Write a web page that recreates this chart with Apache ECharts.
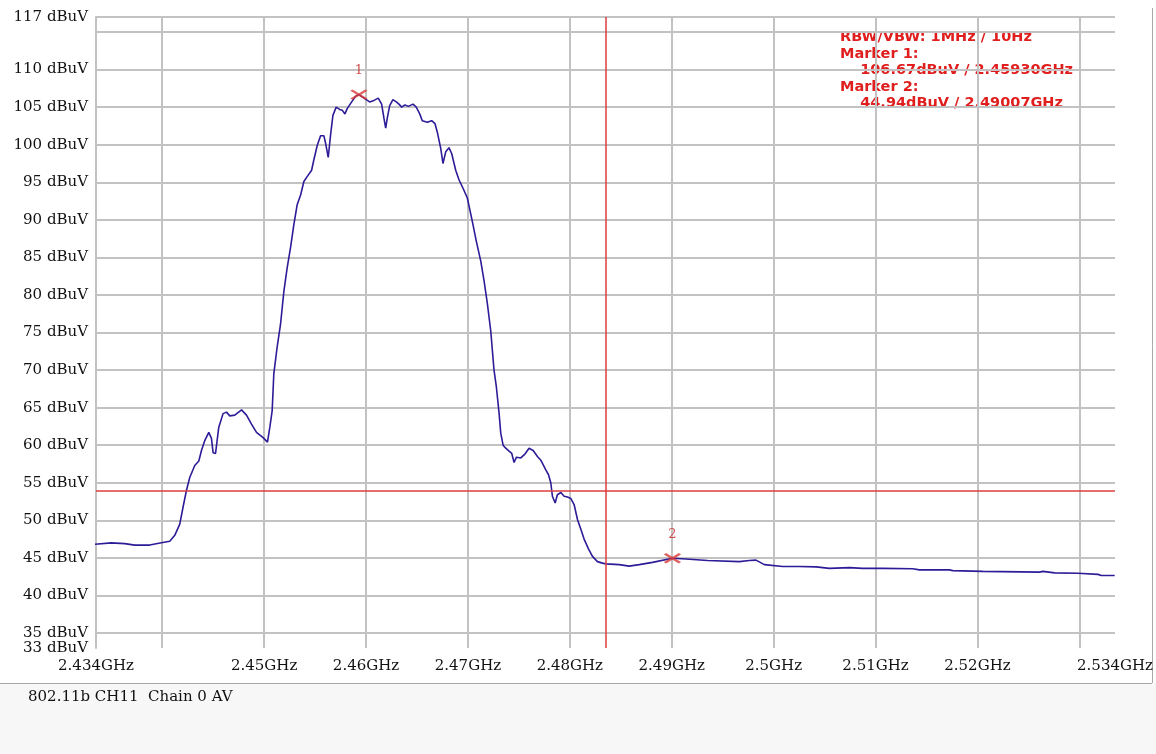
<!DOCTYPE html>
<html>
<head>
<meta charset="utf-8">
<title>802.11b CH11 Chain 0 AV</title>
<script src="https://cdn.jsdelivr.net/npm/echarts@6/dist/echarts.min.js"></script>
<style>
  html, body { margin: 0; padding: 0; background: #fff; }
  #chart { width: 1156px; height: 754px; }
</style>
</head>
<body>
<div id="chart"></div>
<script>
// trace (GHz, dBuV)
var freqGHz = [
  2.43337, 2.43501, 2.43632, 2.43730, 2.43877, 2.43992, 2.44074, 2.44123, 2.44172, 2.44205,
  2.44238, 2.44270, 2.44319, 2.44359, 2.44385, 2.44417, 2.44457, 2.44483, 2.44499, 2.44523,
  2.44555, 2.44597, 2.44631, 2.44663, 2.44712, 2.44778, 2.44827, 2.44876, 2.44925, 2.44990,
  2.45033, 2.45056, 2.45079,
  2.45095, 2.45128, 2.45161, 2.45194, 2.45226, 2.45259, 2.45292, 2.45324, 2.45358, 2.45390,
  2.45422, 2.45466, 2.45488, 2.45521, 2.45554, 2.45586, 2.45603, 2.45629, 2.45652, 2.45675,
  2.45707, 2.45741, 2.45766, 2.45793, 2.45815, 2.45859, 2.45898, 2.45930, 2.45970, 2.46002,
  2.46035, 2.46078, 2.46120, 2.46153, 2.46176, 2.46193, 2.46208, 2.46232, 2.46264, 2.46297,
  2.46323, 2.46350, 2.46382, 2.46415, 2.46461, 2.46493, 2.46527, 2.46552, 2.46601, 2.46644,
  2.46677, 2.46699, 2.46733, 2.46755, 2.46782, 2.46814, 2.46841, 2.46880, 2.46913, 2.46952,
  2.46994,
  2.47043, 2.47083, 2.47126, 2.47158, 2.47191, 2.47224, 2.47256, 2.47279, 2.47306, 2.47322,
  2.47345, 2.47371, 2.47404, 2.47430, 2.47453, 2.47476, 2.47519, 2.47561, 2.47600, 2.47640,
  2.47682, 2.47715, 2.47738, 2.47764, 2.47790, 2.47813, 2.47829, 2.47856, 2.47878, 2.47912,
  2.47944, 2.47977, 2.48010, 2.48042, 2.48075, 2.48108, 2.48140, 2.48183, 2.48222, 2.48271,
  2.48320,
  2.48354, 2.48484, 2.48583, 2.48681, 2.48811, 2.49007, 2.49139, 2.49352, 2.49663, 2.49761,
  2.49827, 2.49909, 2.50089, 2.50253, 2.50417, 2.50547, 2.50744, 2.50874, 2.51071, 2.51366,
  2.51431, 2.51726, 2.51758, 2.52053, 2.52070, 2.52610, 2.52643, 2.52758, 2.52986, 2.53003,
  2.53183, 2.53216, 2.53347
];
var levelDbuv = [
  46.8, 47.0, 46.9, 46.7, 46.7, 47.0, 47.2, 48.0, 49.5, 51.8,
  54.0, 55.7, 57.3, 57.9, 59.3, 60.6, 61.7, 60.9, 59.0, 58.9,
  62.4, 64.2, 64.4, 63.9, 64.0, 64.7, 64.0, 62.8, 61.7, 61.0,
  60.4, 62.4, 64.6,
  69.5, 73.1, 76.1, 80.5, 83.6, 86.3, 89.4, 92.0, 93.3, 95.1,
  95.75, 96.6, 98.0, 99.9, 101.2, 101.2, 100.2, 98.3, 101.3, 103.9,
  105.0, 104.7, 104.6, 104.1, 104.8, 105.7, 106.45, 106.67, 106.3, 106.0,
  105.7, 105.9, 106.2, 105.4, 103.5, 102.2, 103.5, 105.2, 106.0, 105.7,
  105.4, 105.0, 105.3, 105.1, 105.4, 105.0, 104.1, 103.2, 103.0, 103.2,
  102.8, 101.7, 99.5, 97.5, 99.05, 99.6, 98.8, 96.6, 95.3, 94.2,
  92.9,
  89.8, 87.1, 84.5, 81.9, 78.8, 75.2, 70.0, 67.75, 64.2, 61.6,
  60.0, 59.6, 59.2, 58.9, 57.7, 58.4, 58.3, 58.85, 59.6, 59.3,
  58.5, 58.0, 57.4, 56.7, 56.1, 55.0, 53.2, 52.3, 53.4, 53.7,
  53.2, 53.1, 52.9, 52.1, 50.1, 48.8, 47.5, 46.2, 45.2, 44.5,
  44.3,
  44.2, 44.1, 43.9, 44.1, 44.4, 44.94, 44.85, 44.65, 44.5, 44.65,
  44.7, 44.1, 43.85, 43.85, 43.8, 43.6, 43.7, 43.6, 43.6, 43.55,
  43.4, 43.4, 43.3, 43.2, 43.1, 43.1, 43.2, 43.0, 42.95, 42.8,
  42.8, 42.65, 42.65
];

// markers
var markerNames = ['1', '2'];
var markerFreq = [2.45930, 2.49007];
var markerLevel = [106.67, 44.94];

// display line and band edge
var limitLevel = 54;
var bandEdgeGHz = 2.4835;

// axes
var xMin = 2.4335, xMax = 2.5335;
var xGridValues = [2.44, 2.45, 2.46, 2.47, 2.48, 2.49, 2.50, 2.51, 2.52, 2.53];
var xLabelValues = [2.4335, 2.45, 2.46, 2.47, 2.48, 2.49, 2.50, 2.51, 2.52, 2.5335];
var yMin = 33, yMax = 117;
var yGridValues = [35, 40, 45, 50, 55, 60, 65, 70, 75, 80, 85, 90, 95, 100, 105, 110, 115, 117];
var yLabelValues = [33, 35, 40, 45, 50, 55, 60, 65, 70, 75, 80, 85, 90, 95, 100, 105, 110, 117];

var rbwText = 'RBW/VBW: 1MHz / 10Hz';
var footerText = '802.11b CH11  Chain 0 AV';

var gridColor = '#c2c2c2';
var red = '#d93a3a';
var serif = 'DejaVu Serif';

var trace = freqGHz.map(function (f, i) { return [f, levelDbuv[i]]; });
var markers = markerFreq.map(function (f, i) { return { value: [f, markerLevel[i]], name: markerNames[i] }; });

var infoLines = [rbwText];
markerFreq.forEach(function (f, i) {
  infoLines.push('Marker ' + markerNames[i] + ':');
  infoLines.push('    ' + markerLevel[i].toFixed(2) + 'dBuV / ' + f.toFixed(5) + 'GHz');
});

var infoTexts = infoLines.map(function (t, i) {
  return {
    type: 'text', x: 840, y: 30 + i * 16.5,
    style: { text: t, fill: '#e01e1e', font: 'bold 14.5px "DejaVu Sans"', textVerticalAlign: 'top' }
  };
});

var redLine = { color: '#de3c3c', width: 1.5, type: 'solid' };

var option = {
  animation: false,
  backgroundColor: '#fff',
  grid: { left: 96, right: 41, top: 17, bottom: 106, outerBoundsMode: 'none', containLabel: false },
  xAxis: {
    type: 'value', min: xMin, max: xMax,
    axisLine: { show: false },
    axisTick: { show: false, customValues: xGridValues },
    splitLine: { show: true, lineStyle: { color: gridColor, width: 2 } },
    axisLabel: {
      customValues: xLabelValues, margin: 11,
      color: '#111', fontFamily: serif, fontSize: 15,
      formatter: function (v) { return (Math.round(v * 1000 + 1e-6) / 1000) + 'GHz'; }
    }
  },
  yAxis: {
    type: 'value', min: yMin, max: yMax,
    axisLine: { show: true, lineStyle: { color: gridColor, width: 2 } },
    axisTick: { show: false, customValues: yGridValues },
    splitLine: { show: true, lineStyle: { color: gridColor, width: 2 } },
    axisLabel: {
      customValues: yLabelValues, margin: 8,
      color: '#111', fontFamily: serif, fontSize: 15,
      formatter: '{value} dBuV'
    }
  },
  series: [
    {
      type: 'line', data: trace, showSymbol: false, silent: true,
      lineStyle: { color: '#2c1c98', width: 1.6 },
      markLine: {
        silent: true, symbol: 'none', label: { show: false }, precision: 5,
        lineStyle: redLine,
        data: [
          { yAxis: limitLevel, lineStyle: redLine },
          { xAxis: bandEdgeGHz, lineStyle: redLine }
        ]
      },
      z: 3
    },
    {
      type: 'scatter', data: markers, silent: true,
      symbol: 'path://M0,0L16,10M16,0L0,10', symbolSize: [15, 9],
      itemStyle: { color: 'transparent', borderColor: red, borderWidth: 2.5 },
      label: {
        show: true, position: 'top', distance: 12,
        formatter: '{b}', color: '#c8282a', fontFamily: serif, fontSize: 13
      },
      z: 5
    }
  ],
  graphic: [
    { type: 'rect', shape: { x: 0, y: 683, width: 1156, height: 71 }, style: { fill: '#f7f7f7' }, silent: true },
    { type: 'line', shape: { x1: 0, y1: 683.5, x2: 1152, y2: 683.5 }, style: { stroke: '#a8a8a8', lineWidth: 1 }, silent: true },
    { type: 'line', shape: { x1: 1152.5, y1: 8, x2: 1152.5, y2: 683 }, style: { stroke: '#a8a8a8', lineWidth: 1 }, silent: true },
    {
      type: 'text', x: 28, y: 697,
      style: { text: footerText, fill: '#111', font: '15px "DejaVu Serif"', textVerticalAlign: 'middle' }
    }
  ].concat(infoTexts)
};

var myChart = echarts.init(document.getElementById('chart'));
myChart.setOption(option);
</script>
</body>
</html>
